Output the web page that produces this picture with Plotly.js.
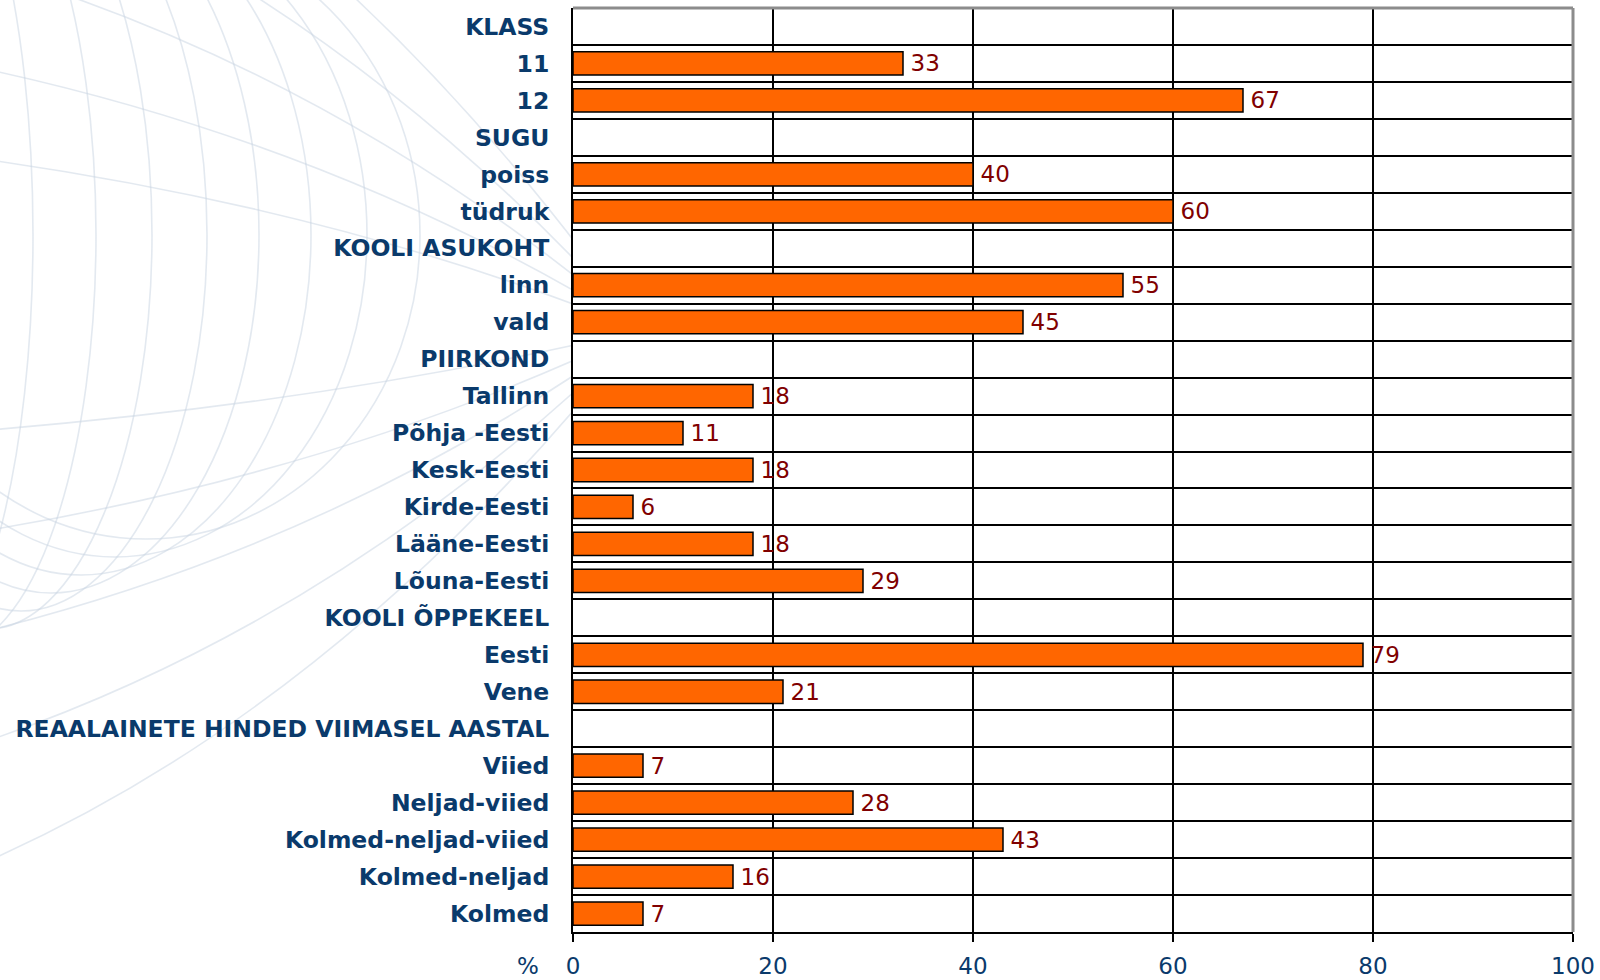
<!DOCTYPE html>
<html>
<head>
<meta charset="utf-8">
<script src="https://cdn.plot.ly/plotly-3.0.1.min.js"></script>
<style>
  html, body { margin: 0; padding: 0; background: #ffffff; }
  #chart { width: 1600px; height: 980px; }
</style>
</head>
<body>
<div id="chart"></div>
<script>
// ---- data ----
const categories = [
  "KLASS", "11", "12",
  "SUGU", "poiss", "tüdruk",
  "KOOLI ASUKOHT", "linn", "vald",
  "PIIRKOND", "Tallinn", "Põhja -Eesti", "Kesk-Eesti", "Kirde-Eesti", "Lääne-Eesti", "Lõuna-Eesti",
  "KOOLI ÕPPEKEEL", "Eesti", "Vene",
  "REAALAINETE HINDED VIIMASEL AASTAL", "Viied", "Neljad-viied", "Kolmed-neljad-viied", "Kolmed-neljad", "Kolmed"
];
const values = [
  null, 33, 67,
  null, 40, 60,
  null, 55, 45,
  null, 18, 11, 18, 6, 18, 29,
  null, 79, 21,
  null, 7, 28, 43, 16, 7
];
const xTickVals = [0, 20, 40, 60, 80, 100];
const xTickText = ["0", "20", "40", "60", "80", "100"];
const unitLabel = "%";

// ---- layout geometry ----
const W = 1600, H = 980;
const M = { l: 573, r: 27, t: 8, b: 48 };
const PW = W - M.l - M.r, PH = H - M.t - M.b;
const px2x = p => (p - M.l) / PW;
const py2y = p => (H - M.b - p) / PH;

const navy = "#0a3a6b";
const FONT = "DejaVu Sans, Verdana, sans-serif";

// decorative background swirl (faint)
const swirl = [];
const swirlColor = "rgba(200,212,226,0.5)";
function ellipse(cx, cy, rx, ry) {
  swirl.push({
    type: "circle", xref: "paper", yref: "paper", layer: "below",
    x0: px2x(cx - rx), x1: px2x(cx + rx), y0: py2y(cy + ry), y1: py2y(cy - ry),
    line: { color: swirlColor, width: 1.6 }, fillcolor: "rgba(0,0,0,0)"
  });
}
function curve(sx, sy, cx, cy, ex, ey) {
  swirl.push({
    type: "path", xref: "paper", yref: "paper", layer: "below",
    path: "M " + px2x(sx) + "," + py2y(sy) + " Q " + px2x(cx) + "," + py2y(cy) + " " + px2x(ex) + "," + py2y(ey),
    line: { color: swirlColor, width: 1.6 }
  });
}
// latitude-like arcs
const rightEdges = [33, 96, 152, 207, 259, 311, 367, 420];
rightEdges.forEach((e, i) => {
  const ry = 430 - 18 * i;
  const rx = 120 + 22 * i;
  ellipse(e - rx, 235, rx, ry);
});
// meridian-like curves converging toward a point behind the labels
const pole = [640, 330];
const starts = [-260, -140, -30, 70, 160, 430, 530, 630, 740, 860];
starts.forEach(sy => {
  const sx = -10;
  const cx = 0.45 * sx + 0.55 * pole[0];
  const cy = 0.7 * sy + 0.3 * pole[1];
  curve(sx, sy, cx, cy, pole[0], pole[1]);
});
// cover plot area with white
swirl.push({
  type: "rect", xref: "paper", yref: "paper", layer: "below",
  x0: 0, x1: 1, y0: 0, y1: 1, fillcolor: "#ffffff", line: { width: 0 }
});

const shapes = swirl.concat([
  { type: "line", xref: "paper", yref: "paper", x0: 0, x1: 1, y0: 1, y1: 1,
    line: { color: "#8c8c8c", width: 3 } },
  { type: "line", xref: "paper", yref: "paper", x0: 1, x1: 1, y0: 0, y1: 1,
    line: { color: "#8c8c8c", width: 3 } }
]);

const trace = {
  type: "bar",
  orientation: "h",
  y: categories,
  x: values,
  width: 0.63,
  marker: { color: "#ff6600", line: { color: "#000000", width: 1.5 } },
  text: values.map(v => v == null ? "" : "\u2009" + String(v)),
  textposition: "outside",
  constraintext: "none",
  cliponaxis: false,
  textfont: { family: FONT, size: 23, color: "#800000" },
  hoverinfo: "x+y"
};

const layout = {
  width: W, height: H,
  margin: M,
  paper_bgcolor: "#ffffff",
  plot_bgcolor: "rgba(0,0,0,0)",
  showlegend: false,
  xaxis: {
    range: [0, 100],
    tickvals: xTickVals,
    ticktext: xTickText,
    showgrid: true, gridcolor: "#000000", gridwidth: 2,
    showline: true, linecolor: "#000000", linewidth: 2,
    ticks: "outside", ticklen: 8, tickwidth: 2, tickcolor: "#000000",
    ticklabelstandoff: 4,
    tickfont: { family: FONT, size: 23, color: navy },
    zeroline: false, fixedrange: true
  },
  yaxis: {
    type: "category",
    categoryorder: "array",
    categoryarray: categories,
    autorange: "reversed",
    tickson: "boundaries",
    showgrid: true, gridcolor: "#000000", gridwidth: 2,
    showline: true, linecolor: "#000000", linewidth: 2,
    ticks: "",
    ticklabelstandoff: 17,
    tickfont: { family: FONT, size: 23.5, color: navy, weight: "bold" },
    zeroline: false, fixedrange: true
  },
  shapes: shapes,
  annotations: [{
    text: unitLabel, xref: "paper", yref: "paper",
    x: px2x(528), y: 0, yshift: -34,
    xanchor: "center", yanchor: "middle", showarrow: false,
    font: { family: FONT, size: 23, color: navy }
  }]
};

Plotly.newPlot("chart", [trace], layout, { displayModeBar: false, staticPlot: true });
</script>
</body>
</html>
